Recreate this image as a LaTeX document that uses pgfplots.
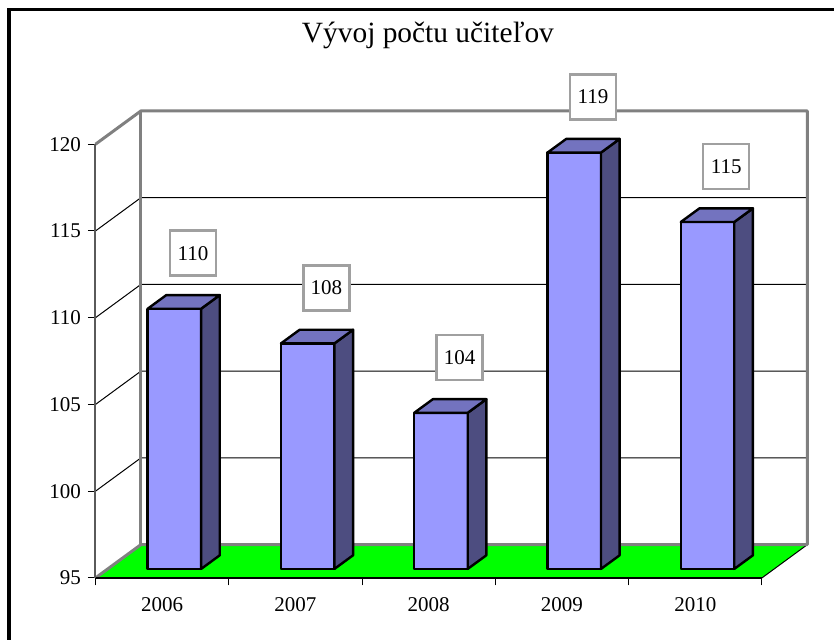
\documentclass[border=0pt]{standalone}
\usepackage{fontspec}
\setmainfont{Liberation Serif}
\usepackage{pgfplots}
\usepackage{pgfplotstable}
\pgfplotsset{compat=1.18}

\definecolor{barfront}{HTML}{9999FF}
\definecolor{bartop}{HTML}{7373BF}
\definecolor{barside}{HTML}{4D4D80}
\definecolor{wallgray}{HTML}{808080}
\definecolor{floorgreen}{HTML}{00FF00}
\definecolor{lblgray}{HTML}{A0A0A0}

\tikzset{
  lbl/.style={draw=lblgray, line width=1.2pt, fill=white, inner sep=0pt,
    minimum width=23pt, minimum height=22.5pt, font=\fontsize{10.5}{12}\selectfont},
  barline/.style={draw=black, line width=1.2pt, line join=round},
}

\pgfplotstableread{
year value
2006 110
2007 108
2008 104
2009 119
2010 115
}\teachers

% #1 = category index (0..4), #2 = value
\newcommand\threedbar[2]{%
  \pgfmathsetmacro\xL{#1+0.3916}%
  \pgfmathsetmacro\xR{#1+0.7926}%
  \pgfmathsetmacro\xLb{#1+0.3916+0.140}%
  \pgfmathsetmacro\xRb{#1+0.7926+0.140}%
  \pgfmathsetmacro\yT{#2+0.518}%
  \pgfmathsetmacro\yTb{#2+0.518+0.787}%
  \pgfmathsetmacro\xlab{#1+0.732}%
  \pgfmathsetmacro\ylab{#2+3.72}%
  \edef\tmp{%
    \noexpand\addplot[fill=barfront, barline] coordinates {(\xL,95.518) (\xR,95.518) (\xR,\yT) (\xL,\yT)} -- cycle;
    \noexpand\addplot[fill=barside, barline] coordinates {(\xR,95.518) (\xRb,96.305) (\xRb,\yTb) (\xR,\yT)} -- cycle;
    \noexpand\addplot[fill=bartop, barline] coordinates {(\xL,\yT) (\xR,\yT) (\xRb,\yTb) (\xLb,\yTb)} -- cycle;
    \noexpand\node[lbl] at (axis cs:\xlab,\ylab) {#2};
  }\tmp
}

\begin{document}
\begin{tikzpicture}
\begin{axis}[
  x=66.65pt, y=8.675pt,
  xmin=0, xmax=5, ymin=95, ymax=120,
  clip=false,
  axis lines=left,
  axis on top,
  x axis line style={black, line width=0.6pt, -},
  y axis line style={draw=wallgray!70!black, line width=1pt, -},
  xtick={0,...,5},
  xticklabels={2006,2007,2008,2009,2010},
  x tick label as interval,
  ytick={95,100,...,120},
  tick align=outside,
  major tick length=3.75pt,
  tick style={black, line width=0.5pt},
  tick label style={font=\fontsize{10.5}{12}\selectfont},
  xticklabel style={yshift=-2.5pt},
  /pgf/number format/assume math mode=true,
  /pgf/number format/1000 sep={},
]
% left wall diagonals and back wall gridlines
\addplot[black, line width=0.5pt] coordinates {(0,100) (0.341,101.92) (5.341,101.92)};
\addplot[black, line width=0.5pt] coordinates {(0,105) (0.341,106.92) (5.341,106.92)};
\addplot[black, line width=0.5pt] coordinates {(0,110) (0.341,111.92) (5.341,111.92)};
\addplot[black, line width=0.5pt] coordinates {(0,115) (0.341,116.92) (5.341,116.92)};
% floor
\addplot[fill=floorgreen, draw=none] coordinates {(0,95) (5,95) (5.341,96.92) (0.341,96.92)} -- cycle;
\addplot[black, line width=0.5pt] coordinates {(5,95) (5.341,96.92)};
% gray wall edges
\addplot[wallgray, line width=1.5pt, line join=round] coordinates {(0,120) (0.341,121.92) (5.341,121.92) (5.341,96.92) (0.341,96.92) (0,95)};
\addplot[wallgray, line width=1.5pt] coordinates {(0.341,121.92) (0.341,96.92)};
% bars
\pgfplotsinvokeforeach{0,...,4}{%
  \pgfplotstablegetelem{#1}{value}\of\teachers
  \let\val\pgfplotsretval
  \threedbar{#1}{\val}
}
% title
\node[anchor=base, font=\fontsize{14.7}{17}\selectfont] at (axis cs:2.4944,125.836) {Vývoj počtu učiteľov};
% outer frame
\draw[black, line width=1.6pt] (axis cs:-0.6489,91.4265) -- (axis cs:-0.6489,127.767) -- (axis cs:5.5409,127.767);
\coordinate (BBsw) at (axis cs:-0.7164,91.4265);
\coordinate (BBne) at (axis cs:5.5409,128.314);
\end{axis}
\pgfresetboundingbox
\useasboundingbox (BBsw) rectangle (BBne);
\end{tikzpicture}
\end{document}
